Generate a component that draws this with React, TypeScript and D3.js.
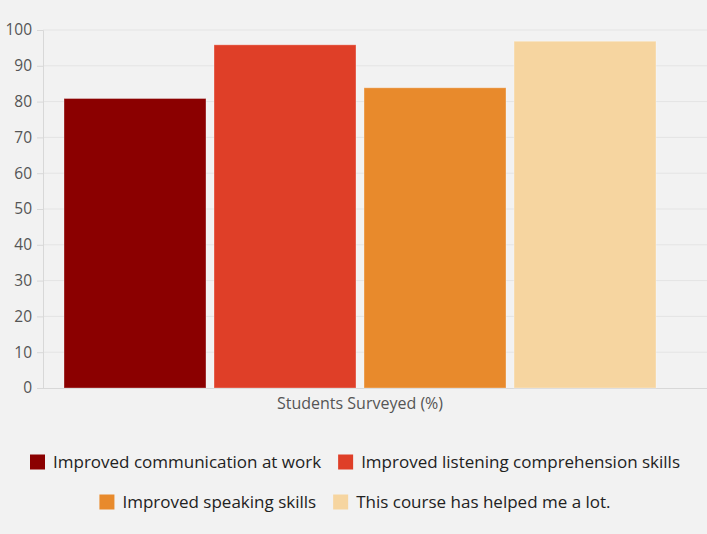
import React, { useEffect, useRef } from 'react';
import * as d3 from 'd3';

const categories = ['Students Surveyed (%)'];
const seriesNames = [
  'Improved communication at work',
  'Improved listening comprehension skills',
  'Improved speaking skills',
  'This course has helped me a lot.',
];
const seriesValues = [81, 96, 84, 97];
const seriesColors = ['#8b0000', '#df3f28', '#e88a2c', '#f6d5a0'];
const yTicks = [0, 10, 20, 30, 40, 50, 60, 70, 80, 90, 100];

const W = 707;
const H = 534;
const FONT = '"Open Sans", "DejaVu Sans", sans-serif';

const App: React.FC = () => {
  const svgRef = useRef<SVGSVGElement>(null);

  useEffect(() => {
    document.body.style.margin = '0';
    if (!svgRef.current) return;
    const svg = d3.select(svgRef.current);
    svg.selectAll('*').remove();

    const margin = { top: 30, right: 0, bottom: 146, left: 43 };
    const innerBottom = H - margin.bottom;

    svg.append('rect').attr('width', W).attr('height', H).attr('fill', '#f2f2f2');

    const y = d3.scaleLinear().domain([0, 100]).range([innerBottom, margin.top]);

    // outer band for the single category, inner band for the series
    const x0 = d3.scaleBand<string>()
      .domain(categories)
      .range([margin.left, 677])
      .paddingInner(0)
      .paddingOuter(0.0346);
    const x1 = d3.scaleBand<string>()
      .domain(seriesNames)
      .range([0, x0.bandwidth()])
      .paddingInner(0.047)
      .paddingOuter(0);

    // grid
    svg.append('g')
      .selectAll('line')
      .data(yTicks.filter(t => t > 0))
      .enter()
      .append('line')
      .attr('x1', margin.left)
      .attr('x2', W)
      .attr('y1', d => y(d))
      .attr('y2', d => y(d))
      .attr('stroke', '#e4e4e4')
      .attr('stroke-width', 1);

    // y axis
    const yAxis = svg.append('g')
      .attr('transform', `translate(${margin.left},0)`)
      .call(d3.axisLeft(y).tickValues(yTicks).tickSize(6).tickPadding(5));
    yAxis.select('.domain').attr('stroke', '#d8d8d8');
    yAxis.selectAll('.tick line').attr('stroke', '#d8d8d8');
    yAxis.selectAll('text')
      .style('font-family', FONT)
      .style('font-size', '15.5px')
      .attr('fill', '#555');

    // x axis
    const xAxis = svg.append('g')
      .attr('transform', `translate(0,${innerBottom})`)
      .call(d3.axisBottom(x0).tickSize(0).tickPadding(10));
    xAxis.select('.domain').remove();
    xAxis.selectAll('text')
      .style('font-family', FONT)
      .style('font-size', '16px')
      .attr('fill', '#555');
    svg.append('line')
      .attr('x1', margin.left - 6)
      .attr('x2', W)
      .attr('y1', innerBottom + 0.5)
      .attr('y2', innerBottom + 0.5)
      .attr('stroke', '#d8d8d8');

    // bars
    const group = svg.append('g')
      .attr('transform', `translate(${x0(categories[0])},0)`);
    group.selectAll('rect')
      .data(seriesNames.map((name, i) => ({ name, value: seriesValues[i], color: seriesColors[i] })))
      .enter()
      .append('rect')
      .attr('x', d => x1(d.name)! + 0.5)
      .attr('y', d => y(d.value) + 0.5)
      .attr('width', x1.bandwidth() - 1)
      .attr('height', d => innerBottom - y(d.value) - 0.5)
      .attr('fill', d => d.color)
      .attr('stroke', 'rgba(255,255,255,0.3)')
      .attr('stroke-width', 1);

    // legend, packed into rows and centred
    const box = 15;
    const boxGap = 8;
    const itemGap = 17;
    const maxRow = 690;
    const legend = svg.append('g');
    const items = seriesNames.map((name, i) => {
      const g = legend.append('g');
      g.append('rect')
        .attr('width', box)
        .attr('height', box)
        .attr('y', -box / 2)
        .attr('fill', seriesColors[i]);
      const t = g.append('text')
        .attr('x', box + boxGap)
        .attr('dy', '0.35em')
        .style('font-family', FONT)
        .style('font-size', '17px')
        .attr('fill', '#222')
        .text(name);
      const w = box + boxGap + (t.node() as SVGTextElement).getComputedTextLength();
      return { g, w };
    });
    const rows: { g: any; w: number }[][] = [];
    let cur: { g: any; w: number }[] = [];
    let curW = 0;
    items.forEach(it => {
      const add = cur.length ? itemGap + it.w : it.w;
      if (cur.length && curW + add > maxRow) {
        rows.push(cur);
        cur = [it];
        curW = it.w;
      } else {
        cur.push(it);
        curW += add;
      }
    });
    if (cur.length) rows.push(cur);
    rows.forEach((row, r) => {
      const total = d3.sum(row, d => d.w) + itemGap * (row.length - 1);
      let xPos = 355 - total / 2;
      const yPos = 462 + r * 40;
      row.forEach(it => {
        it.g.attr('transform', `translate(${xPos},${yPos})`);
        xPos += it.w + itemGap;
      });
    });
  }, []);

  return <svg ref={svgRef} width={W} height={H} style={{ display: 'block' }} />;
};

export default App;
